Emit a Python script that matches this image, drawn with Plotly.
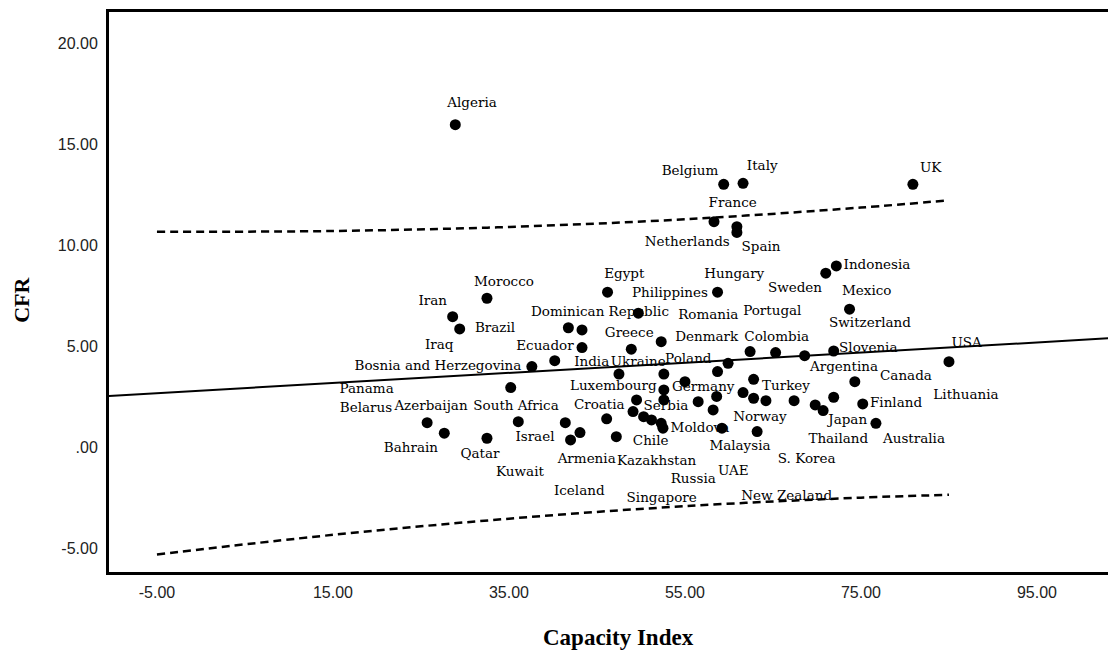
import plotly.graph_objects as go

# ---- data: points (Capacity Index, CFR) ----
capacity = [28.9, 59.4, 61.6, 80.9, 58.3, 60.9, 60.9, 46.2, 58.7, 49.7,
            71.0, 72.2, 73.7, 32.5, 28.6, 29.4, 41.75, 43.3, 43.3, 48.9,
            52.3, 40.2, 37.6, 47.5, 52.6, 35.2, 25.7, 36.06, 41.4, 46.1,
            27.65, 32.5, 43.07, 42.0, 47.2, 59.9, 58.7, 55.0, 52.6, 52.6,
            49.5, 56.5, 58.6, 58.2, 49.1, 50.3, 51.2, 52.3, 52.5, 59.2,
            62.4, 65.3, 68.6, 71.9, 62.8, 74.3, 61.6, 62.8, 64.2, 67.4,
            71.9, 69.8, 70.7, 85.0, 75.2, 76.7, 63.2]
cfr = [15.95, 13.0, 13.05, 13.0, 11.15, 10.9, 10.62, 7.66, 7.66, 6.62,
       8.6, 8.96, 6.82, 7.36, 6.45, 5.84, 5.9, 5.79, 4.92, 4.84,
       5.21, 4.27, 3.98, 3.61, 3.61, 2.94, 1.2, 1.25, 1.2, 1.39,
       0.68, 0.43, 0.71, 0.35, 0.51, 4.14, 3.73, 3.23, 2.82, 2.33,
       2.33, 2.24, 2.5, 1.83, 1.75, 1.5, 1.34, 1.17, 0.93, 0.93,
       4.72, 4.67, 4.52, 4.75, 3.35, 3.23, 2.69, 2.41, 2.29, 2.29,
       2.46, 2.08, 1.8, 4.22, 2.13, 1.17, 0.76]

# ---- country labels and where their text sits (data coordinates) ----
label_text = ["Algeria", "Belgium", "Italy", "UK", "France", "Netherlands", "Spain",
              "Egypt", "Hungary", "Philippines", "Sweden", "Indonesia", "Mexico",
              "Portugal", "Romania", "Switzerland", "Dominican Republic", "Morocco",
              "Iran", "Brazil", "Iraq", "Ecuador", "Greece", "Bosnia and Herzegovina",
              "India", "Ukraine", "Poland", "Denmark", "Colombia", "Slovenia", "USA",
              "Argentina", "Canada", "Lithuania", "Turkey", "Finland", "Japan",
              "Thailand", "Australia", "S. Korea", "Norway", "Malaysia", "UAE",
              "Russia", "New Zealand", "Singapore", "Moldova", "Chile", "Germany",
              "Luxembourg", "Croatia", "Serbia", "Kazakhstan", "Armenia", "Israel",
              "South Africa", "Azerbaijan", "Belarus", "Panama", "Bahrain", "Qatar",
              "Kuwait", "Iceland"]
label_x = [30.80, 55.57, 63.78, 82.92, 60.42, 55.26, 63.64,
           48.10, 60.60, 53.30, 67.50, 76.82, 75.65,
           64.92, 57.65, 76.02, 45.34, 34.43,
           26.33, 33.41, 27.08, 39.09, 48.67, 26.93,
           44.40, 49.69, 55.38, 57.47, 65.42, 75.83, 87.01,
           73.07, 80.11, 86.93, 66.48, 78.98, 73.49,
           72.42, 81.02, 68.83, 63.52, 61.25, 60.49,
           55.94, 66.56, 52.35, 56.70, 51.10, 57.08,
           46.85, 45.26, 52.84, 51.78, 43.83, 37.95,
           35.80, 26.14, 18.75, 18.83, 23.86, 31.70,
           36.25, 42.99]
label_y = [16.98, 13.63, 13.88, 13.80, 12.03, 10.11, 9.89,
           8.51, 8.55, 7.57, 7.86, 8.96, 7.69,
           6.70, 6.50, 6.12, 6.67, 8.15,
           7.19, 5.84, 5.01, 4.97, 5.63, 3.96,
           4.17, 4.17, 4.31, 5.43, 5.43, 4.89, 5.13,
           3.93, 3.48, 2.52, 2.99, 2.13, 1.29,
           0.38, 0.38, -0.64, 1.47, 0.01, -1.22,
           -1.63, -2.46, -2.54, 0.93, 0.26, 2.96,
           2.99, 2.03, 2.00, -0.73, -0.64, 0.46,
           2.00, 1.98, 1.88, 2.86, -0.10, -0.40,
           -1.26, -2.21]

# ---- fit line and prediction interval ----
fit_x = [-10.7, 104.0]
fit_y = [2.52, 5.40]
band_x = [-5, 15, 35, 55, 75, 85]
band_upper = [10.65, 10.69, 10.89, 11.27, 11.85, 12.21]
band_lower = [-5.32, -4.35, -3.55, -2.93, -2.51, -2.37]

x_ticks = [-5, 15, 35, 55, 75, 95]
x_ticktext = ["-5.00", "15.00", "35.00", "55.00", "75.00", "95.00"]
y_ticks = [-5, 0, 5, 10, 15, 20]
y_ticktext = ["-5.00", ".00", "5.00", "10.00", "15.00", "20.00"]

SERIF = "DejaVu Serif"
TITLE_SERIF = "Liberation Serif, Times New Roman, serif"
SANS = "Liberation Sans, Arial, sans-serif"

fig = go.Figure()

fig.add_trace(go.Scatter(
    x=label_x, y=label_y, text=label_text, mode="text",
    textposition="middle center",
    textfont=dict(family=SERIF, size=13.5, color="#000000"),
    hoverinfo="skip", showlegend=False))

dash_line = dict(color="#000000", width=2.5, dash="8px,5px", shape="spline")
fig.add_trace(go.Scatter(x=band_x, y=band_upper, mode="lines", line=dash_line,
                         hoverinfo="skip", showlegend=False))
fig.add_trace(go.Scatter(x=band_x, y=band_lower, mode="lines", line=dash_line,
                         hoverinfo="skip", showlegend=False))
fig.add_trace(go.Scatter(x=fit_x, y=fit_y, mode="lines",
                         line=dict(color="#000000", width=2),
                         hoverinfo="skip", showlegend=False))

fig.add_trace(go.Scatter(
    x=capacity, y=cfr, mode="markers",
    marker=dict(size=11, color="#000000", line=dict(width=0)),
    showlegend=False))

fig.update_layout(
    width=1108, height=642,
    margin=dict(l=101, r=0, t=4, b=78),
    paper_bgcolor="white", plot_bgcolor="white",
    showlegend=False,
    xaxis=dict(range=[-10.45, 103.98], tickvals=x_ticks, ticktext=x_ticktext,
               showgrid=False, zeroline=False, showline=True, linecolor="#000000",
               linewidth=3, mirror=True, ticks="", ticklabelstandoff=4,
               tickfont=dict(family=SANS, size=16, color="#222222")),
    yaxis=dict(range=[-6.19, 21.53], tickvals=y_ticks, ticktext=y_ticktext,
               showgrid=False, zeroline=False, showline=True, linecolor="#000000",
               linewidth=3, ticks="", ticklabelstandoff=5,
               tickfont=dict(family=SANS, size=16, color="#222222")),
    annotations=[
        dict(text="<b>Capacity Index</b>", xref="paper", yref="paper", x=0.5055, y=0,
             yshift=-65, xanchor="center", yanchor="middle", showarrow=False,
             font=dict(family=TITLE_SERIF, size=23, color="#000000")),
        dict(text="<b>CFR</b>", xref="paper", yref="paper", x=0, y=0.486,
             xshift=-87, xanchor="center", yanchor="middle", showarrow=False,
             textangle=-90, font=dict(family=TITLE_SERIF, size=22, color="#000000")),
    ],
)

fig.write_html("out.html")
